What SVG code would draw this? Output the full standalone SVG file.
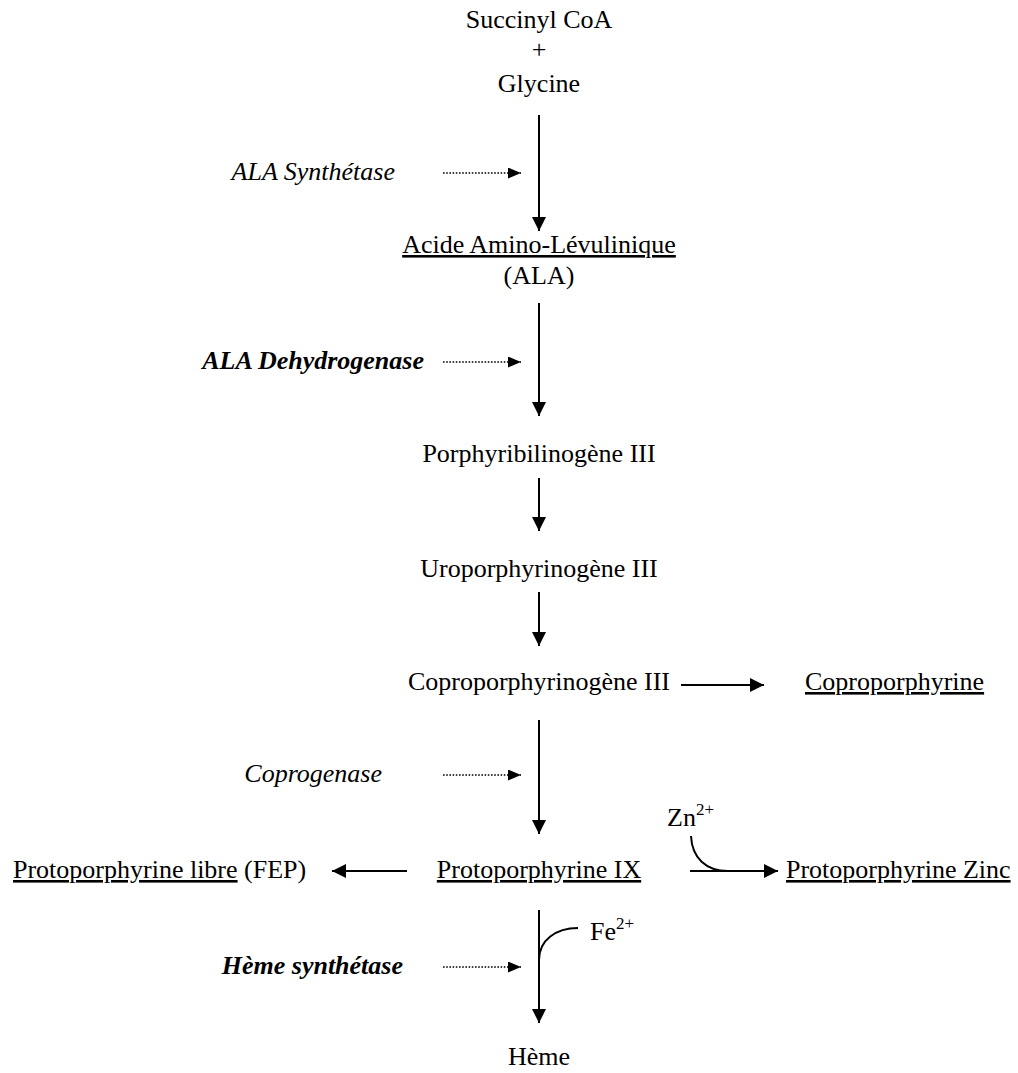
<svg xmlns="http://www.w3.org/2000/svg" width="1018" height="1073" viewBox="0 0 1018 1073">
  <style>
    text { font-family: "Liberation Serif", "Times New Roman", serif; font-size: 26px; fill: #000; }
    .c { text-anchor: middle; }
    .e { text-anchor: end; }
    .u { text-decoration: underline; }
    .enz { font-style: italic; }
    .enzb { font-style: italic; font-weight: bold; }
    .sup { font-size: 17px; }
    .flow { stroke: #000; stroke-width: 2; fill: none; }
    .dot { stroke: #000; stroke-width: 1.6; stroke-dasharray: 1.6 1.6; fill: none; }
  </style>
  <defs>
    <marker id="head" viewBox="0 0 14 14" refX="14" refY="7" markerWidth="14" markerHeight="14" markerUnits="userSpaceOnUse" orient="auto">
      <path d="M0,0 L14,7 L0,14 Z" fill="#000"/>
    </marker>
    <marker id="headDot" viewBox="0 0 13 11" refX="13" refY="5.5" markerWidth="13" markerHeight="11" markerUnits="userSpaceOnUse" orient="auto">
      <path d="M0,0 L13,5.5 L0,11 Z" fill="#000"/>
    </marker>
  </defs>

  <!-- pathway nodes -->
  <g id="substrates">
    <text class="c" x="539" y="28">Succinyl CoA</text>
    <text class="c" x="539" y="58">+</text>
    <text class="c" x="539" y="92">Glycine</text>
  </g>
  <g id="ala">
    <text class="c u" x="539" y="253">Acide Amino-Lévulinique</text>
    <text class="c" x="539" y="284">(ALA)</text>
  </g>
  <g id="pbg"><text class="c" x="539" y="462">Porphyribilinogène III</text></g>
  <g id="uro"><text class="c" x="539" y="577">Uroporphyrinogène III</text></g>
  <g id="copro3"><text class="c" x="539" y="690">Coproporphyrinogène III</text></g>
  <g id="coproporphyrine"><text x="805" y="690" class="u">Coproporphyrine</text></g>
  <g id="proto9"><text class="c u" x="539" y="878">Protoporphyrine IX</text></g>
  <g id="fep"><text x="13" y="878"><tspan class="u">Protoporphyrine libre</tspan> (FEP)</text></g>
  <g id="zpp"><text x="786" y="878" class="u">Protoporphyrine Zinc</text></g>
  <g id="zn"><text x="667" y="826">Zn<tspan class="sup" dy="-11">2+</tspan></text></g>
  <g id="fe"><text x="590" y="940">Fe<tspan class="sup" dy="-11">2+</tspan></text></g>
  <g id="heme"><text class="c" x="539" y="1065">Hème</text></g>

  <!-- enzymes -->
  <g id="enz-ala-synthetase"><text class="enz e" x="395" y="180">ALA Synthétase</text></g>
  <g id="enz-ala-dehydrogenase"><text class="enzb e" x="424" y="369">ALA Dehydrogenase</text></g>
  <g id="enz-coprogenase"><text class="enz e" x="382" y="782">Coprogenase</text></g>
  <g id="enz-heme-synthetase"><text class="enzb e" x="403" y="974">Hème synthétase</text></g>

  <!-- connectors -->
  <g id="connectors">
    <line class="flow" x1="539" y1="115" x2="539" y2="231" marker-end="url(#head)"/>
    <line class="flow" x1="539" y1="303" x2="539" y2="416" marker-end="url(#head)"/>
    <line class="flow" x1="539" y1="478" x2="539" y2="531" marker-end="url(#head)"/>
    <line class="flow" x1="539" y1="592" x2="539" y2="646" marker-end="url(#head)"/>
    <line class="flow" x1="539" y1="720" x2="539" y2="834" marker-end="url(#head)"/>
    <line class="flow" x1="539" y1="910" x2="539" y2="1023" marker-end="url(#head)"/>

    <line class="flow" x1="681" y1="685" x2="764" y2="685" marker-end="url(#head)"/>
    <line class="flow" x1="407" y1="871" x2="332" y2="871" marker-end="url(#head)"/>
    <line class="flow" x1="690" y1="871" x2="778" y2="871" marker-end="url(#head)"/>
    <path class="flow" d="M691,836 C692,858 706,871 728,871"/>
    <path class="flow" d="M578,928 C556,928 539,940 539,960"/>

    <line class="dot" x1="443" y1="173" x2="521" y2="173" marker-end="url(#headDot)"/>
    <line class="dot" x1="443" y1="362" x2="521" y2="362" marker-end="url(#headDot)"/>
    <line class="dot" x1="443" y1="775" x2="521" y2="775" marker-end="url(#headDot)"/>
    <line class="dot" x1="443" y1="967" x2="521" y2="967" marker-end="url(#headDot)"/>
  </g>
</svg>
